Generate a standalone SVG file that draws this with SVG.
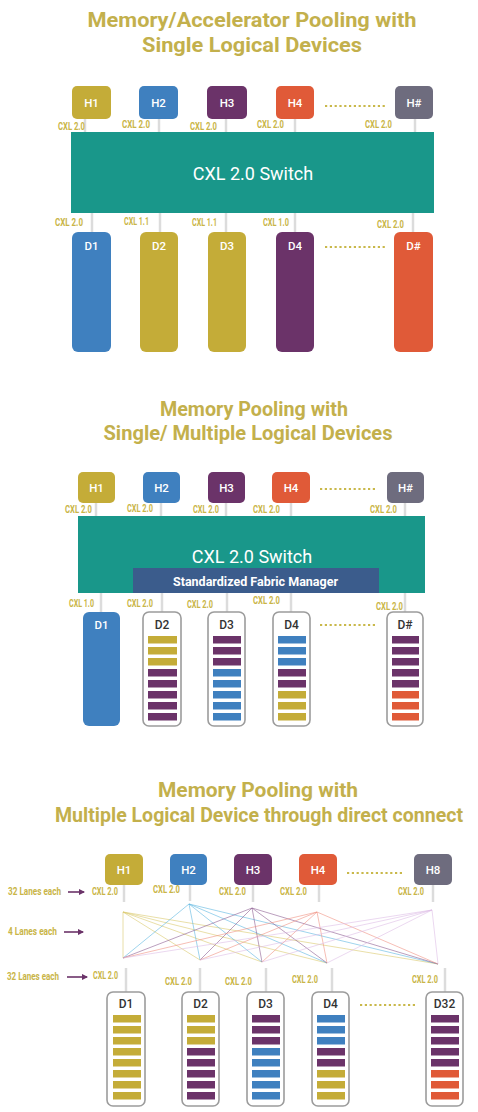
<svg xmlns="http://www.w3.org/2000/svg" width="478" height="1112" viewBox="0 0 478 1112">
<defs>
<style>
.title{font-family:Roboto,"Liberation Sans",sans-serif;font-weight:bold;font-size:20px;fill:#C3B04C;text-anchor:middle}
.lbl{font-family:Roboto,"Liberation Sans",sans-serif;font-weight:bold;font-size:11px;fill:#C9B547}
.lane{font-family:Roboto,"Liberation Sans",sans-serif;font-weight:bold;font-size:10.5px;fill:#C9B547}
.ht{font-family:Roboto,"Liberation Sans",sans-serif;font-weight:500;font-size:11.5px;fill:#fff;text-anchor:middle}
.dt{font-family:Roboto,"Liberation Sans",sans-serif;font-weight:500;font-size:12px;fill:#333;text-anchor:middle}
.sw{font-family:Roboto,"Liberation Sans",sans-serif;font-size:18px;fill:#fff;text-anchor:middle}
.fm{font-family:Roboto,"Liberation Sans",sans-serif;font-weight:bold;font-size:13px;fill:#fff;text-anchor:middle}
.stub{stroke:#dcdcdc;stroke-width:2.5}
.dots{stroke:#C9B84A;stroke-width:2.2;stroke-dasharray:2.2 2.6}
.box{fill:#fff;stroke:#9c9c9c;stroke-width:1.6}
.g{fill:#C4AC38}.b{fill:#3F80BF}.p{fill:#6B3369}.o{fill:#E05A38}.k{fill:#6E6C7E}
.sc{fill:#19978A}
.arr{stroke:#6B3369;stroke-width:1.6;marker-end:url(#ah)}
.m{stroke-width:0.9;fill:none;opacity:0.65}
</style>
<marker id="ah" viewBox="0 0 6 6" refX="5" refY="3" markerWidth="4" markerHeight="4" orient="auto"><path d="M0,0L6,3L0,6z" fill="#6B3369"/></marker>
</defs>
<rect width="478" height="1112" fill="#fff"/>

<!-- Section 1 -->
<g id="s1-title">
<text class="title" x="252" y="27" textLength="329" lengthAdjust="spacingAndGlyphs">Memory/Accelerator Pooling with</text>
<text class="title" x="252" y="52" textLength="220" lengthAdjust="spacingAndGlyphs">Single Logical Devices</text>
</g>
<g id="s1-connectors">
<line class="stub" x1="85" y1="119" x2="85" y2="132"/>
<line class="stub" x1="159" y1="119" x2="159" y2="132"/>
<line class="stub" x1="226" y1="119" x2="226" y2="132"/>
<line class="stub" x1="295" y1="119" x2="295" y2="132"/>
<line class="stub" x1="415" y1="119" x2="415" y2="132"/>
<line class="stub" x1="92" y1="213" x2="92" y2="232"/>
<line class="stub" x1="160" y1="213" x2="160" y2="232"/>
<line class="stub" x1="226" y1="213" x2="226" y2="232"/>
<line class="stub" x1="295" y1="213" x2="295" y2="232"/>
<line class="stub" x1="413" y1="213" x2="413" y2="232"/>
<text class="lbl" x="58" y="130" textLength="27" lengthAdjust="spacingAndGlyphs">CXL 2.0</text>
<text class="lbl" x="122" y="128" textLength="28" lengthAdjust="spacingAndGlyphs">CXL 2.0</text>
<text class="lbl" x="190" y="130" textLength="27" lengthAdjust="spacingAndGlyphs">CXL 2.0</text>
<text class="lbl" x="257" y="128" textLength="27" lengthAdjust="spacingAndGlyphs">CXL 2.0</text>
<text class="lbl" x="365" y="128" textLength="27" lengthAdjust="spacingAndGlyphs">CXL 2.0</text>
<text class="lbl" x="55" y="226" textLength="28" lengthAdjust="spacingAndGlyphs">CXL 2.0</text>
<text class="lbl" x="124" y="225" textLength="25" lengthAdjust="spacingAndGlyphs">CXL 1.1</text>
<text class="lbl" x="192" y="226" textLength="25" lengthAdjust="spacingAndGlyphs">CXL 1.1</text>
<text class="lbl" x="263" y="226" textLength="26" lengthAdjust="spacingAndGlyphs">CXL 1.0</text>
<text class="lbl" x="377" y="228" textLength="27" lengthAdjust="spacingAndGlyphs">CXL 2.0</text>
</g>
<g id="s1-H1"><rect class="g" x="72" y="86" width="39" height="33" rx="5"/><text class="ht" x="91.5" y="107">H1</text></g>
<g id="s1-H2"><rect class="b" x="139" y="86" width="39" height="33" rx="5"/><text class="ht" x="158.5" y="107">H2</text></g>
<g id="s1-H3"><rect class="p" x="207" y="86" width="40" height="33" rx="5"/><text class="ht" x="227" y="107">H3</text></g>
<g id="s1-H4"><rect class="o" x="276" y="86" width="38" height="33" rx="5"/><text class="ht" x="295" y="107">H4</text></g>
<g id="s1-Hn"><rect class="k" x="395" y="86" width="38" height="33" rx="5"/><text class="ht" x="414" y="107">H#</text></g>
<line class="dots" x1="325" y1="106" x2="385" y2="106"/>
<g id="s1-switch"><rect class="sc" x="71" y="132" width="363" height="81"/><text class="sw" x="253" y="180">CXL 2.0 Switch</text></g>
<g id="s1-D1"><rect class="b" x="72" y="232" width="39" height="120" rx="6"/><text class="ht" x="91.5" y="250" font-size="12">D1</text></g>
<g id="s1-D2"><rect class="g" x="140" y="232" width="38" height="120" rx="6"/><text class="ht" x="159" y="250" font-size="12">D2</text></g>
<g id="s1-D3"><rect class="g" x="208" y="232" width="38" height="120" rx="6"/><text class="ht" x="227" y="250" font-size="12">D3</text></g>
<g id="s1-D4"><rect class="p" x="276" y="232" width="38" height="120" rx="6"/><text class="ht" x="295" y="250" font-size="12">D4</text></g>
<g id="s1-Dn"><rect class="o" x="394" y="232" width="39" height="120" rx="6"/><text class="ht" x="413.5" y="250" font-size="12">D#</text></g>
<line class="dots" x1="325" y1="247" x2="385" y2="247"/>

<!-- Section 2 -->
<g id="s2-title">
<text class="title" x="254" y="416" textLength="188" lengthAdjust="spacingAndGlyphs">Memory Pooling with</text>
<text class="title" x="248" y="440" textLength="289" lengthAdjust="spacingAndGlyphs">Single/ Multiple Logical Devices</text>
</g>
<g id="s2-connectors">
<line class="stub" x1="96" y1="503" x2="96" y2="516"/>
<line class="stub" x1="161" y1="503" x2="161" y2="516"/>
<line class="stub" x1="226" y1="503" x2="226" y2="516"/>
<line class="stub" x1="291" y1="503" x2="291" y2="516"/>
<line class="stub" x1="405" y1="503" x2="405" y2="516"/>
<line class="stub" x1="101" y1="593" x2="101" y2="612"/>
<line class="stub" x1="162" y1="593" x2="162" y2="612"/>
<line class="stub" x1="227" y1="593" x2="227" y2="612"/>
<line class="stub" x1="291" y1="593" x2="291" y2="612"/>
<line class="stub" x1="405" y1="593" x2="405" y2="612"/>
<text class="lbl" x="65" y="513" textLength="27" lengthAdjust="spacingAndGlyphs">CXL 2.0</text>
<text class="lbl" x="127" y="512" textLength="26" lengthAdjust="spacingAndGlyphs">CXL 2.0</text>
<text class="lbl" x="193" y="513" textLength="26" lengthAdjust="spacingAndGlyphs">CXL 2.0</text>
<text class="lbl" x="253" y="513" textLength="27" lengthAdjust="spacingAndGlyphs">CXL 2.0</text>
<text class="lbl" x="370" y="513" textLength="27" lengthAdjust="spacingAndGlyphs">CXL 2.0</text>
<text class="lbl" x="69" y="607" textLength="25" lengthAdjust="spacingAndGlyphs">CXL 1.0</text>
<text class="lbl" x="127" y="607" textLength="26" lengthAdjust="spacingAndGlyphs">CXL 2.0</text>
<text class="lbl" x="187" y="608" textLength="26" lengthAdjust="spacingAndGlyphs">CXL 2.0</text>
<text class="lbl" x="253" y="604" textLength="27" lengthAdjust="spacingAndGlyphs">CXL 2.0</text>
<text class="lbl" x="376" y="610" textLength="27" lengthAdjust="spacingAndGlyphs">CXL 2.0</text>
</g>
<g id="s2-H1"><rect class="g" x="78" y="472" width="37" height="31" rx="5"/><text class="ht" x="96.5" y="492">H1</text></g>
<g id="s2-H2"><rect class="b" x="143" y="472" width="37" height="31" rx="5"/><text class="ht" x="161.5" y="492">H2</text></g>
<g id="s2-H3"><rect class="p" x="208" y="472" width="37" height="31" rx="5"/><text class="ht" x="226.5" y="492">H3</text></g>
<g id="s2-H4"><rect class="o" x="272" y="472" width="38" height="31" rx="5"/><text class="ht" x="291" y="492">H4</text></g>
<g id="s2-Hn"><rect class="k" x="387" y="472" width="37" height="31" rx="5"/><text class="ht" x="405.5" y="492">H#</text></g>
<line class="dots" x1="320" y1="489" x2="377" y2="489"/>
<g id="s2-switch"><rect class="sc" x="78" y="516" width="347" height="77"/><text class="sw" x="252" y="563">CXL 2.0 Switch</text></g>
<g id="s2-fm"><rect fill="#3B5C8C" x="133" y="568" width="246" height="25"/><text class="fm" x="255.5" y="586" textLength="165" lengthAdjust="spacingAndGlyphs">Standardized Fabric Manager</text></g>
<g id="s2-D1"><rect class="b" x="83" y="612" width="37" height="114" rx="6"/><text class="ht" x="101.5" y="629" font-size="12">D1</text></g>
<g id="s2-D2"><rect class="box" x="143" y="612" width="38" height="114" rx="6"/><text class="dt" x="162" y="629">D2</text>
<rect class="g" x="148" y="636" width="29" height="7.5"/><rect class="g" x="148" y="647" width="29" height="7.5"/><rect class="g" x="148" y="658" width="29" height="7.5"/><rect class="p" x="148" y="669" width="29" height="7.5"/><rect class="p" x="148" y="680" width="29" height="7.5"/><rect class="p" x="148" y="691" width="29" height="7.5"/><rect class="p" x="148" y="702" width="29" height="7.5"/><rect class="p" x="148" y="713" width="29" height="7.5"/></g>
<g id="s2-D3"><rect class="box" x="208" y="612" width="37" height="114" rx="6"/><text class="dt" x="226.5" y="629">D3</text>
<rect class="p" x="213" y="636" width="28" height="7.5"/><rect class="p" x="213" y="647" width="28" height="7.5"/><rect class="p" x="213" y="658" width="28" height="7.5"/><rect class="b" x="213" y="669" width="28" height="7.5"/><rect class="b" x="213" y="680" width="28" height="7.5"/><rect class="b" x="213" y="691" width="28" height="7.5"/><rect class="b" x="213" y="702" width="28" height="7.5"/><rect class="b" x="213" y="713" width="28" height="7.5"/></g>
<g id="s2-D4"><rect class="box" x="273" y="612" width="37" height="114" rx="6"/><text class="dt" x="291.5" y="629">D4</text>
<rect class="b" x="278" y="636" width="28" height="7.5"/><rect class="b" x="278" y="647" width="28" height="7.5"/><rect class="b" x="278" y="658" width="28" height="7.5"/><rect class="p" x="278" y="669" width="28" height="7.5"/><rect class="p" x="278" y="680" width="28" height="7.5"/><rect class="g" x="278" y="691" width="28" height="7.5"/><rect class="g" x="278" y="702" width="28" height="7.5"/><rect class="g" x="278" y="713" width="28" height="7.5"/></g>
<g id="s2-Dn"><rect class="box" x="387" y="612" width="36" height="114" rx="6"/><text class="dt" x="405" y="629">D#</text>
<rect class="p" x="392" y="636" width="27" height="7.5"/><rect class="p" x="392" y="647" width="27" height="7.5"/><rect class="p" x="392" y="658" width="27" height="7.5"/><rect class="p" x="392" y="669" width="27" height="7.5"/><rect class="p" x="392" y="680" width="27" height="7.5"/><rect class="o" x="392" y="691" width="27" height="7.5"/><rect class="o" x="392" y="702" width="27" height="7.5"/><rect class="o" x="392" y="713" width="27" height="7.5"/></g>
<line class="dots" x1="320" y1="625" x2="377" y2="625"/>

<!-- Section 3 -->
<g id="s3-title">
<text class="title" x="258" y="797" textLength="200" lengthAdjust="spacingAndGlyphs">Memory Pooling with</text>
<text class="title" x="259" y="822" textLength="408" lengthAdjust="spacingAndGlyphs">Multiple Logical Device through direct connect</text>
</g>
<g id="s3-lanes">
<text class="lane" x="8" y="895" textLength="53" lengthAdjust="spacingAndGlyphs">32 Lanes each</text>
<line class="arr" x1="68" y1="892" x2="84" y2="892"/>
<text class="lane" x="8" y="935" textLength="49" lengthAdjust="spacingAndGlyphs">4 Lanes each</text>
<line class="arr" x1="64" y1="932" x2="83" y2="932"/>
<text class="lane" x="7" y="980" textLength="52" lengthAdjust="spacingAndGlyphs">32 Lanes each</text>
<line class="arr" x1="67" y1="977" x2="87" y2="977"/>
</g>
<g id="s3-connectors">
<line class="stub" x1="124" y1="885" x2="124" y2="902"/>
<line class="stub" x1="190" y1="885" x2="190" y2="901"/>
<line class="stub" x1="253" y1="885" x2="253" y2="902"/>
<line class="stub" x1="319" y1="885" x2="319" y2="902"/>
<line class="stub" x1="433" y1="885" x2="433" y2="902"/>
<line class="stub" x1="126" y1="968" x2="126" y2="992"/>
<line class="stub" x1="200" y1="968" x2="200" y2="992"/>
<line class="stub" x1="266" y1="968" x2="266" y2="992"/>
<line class="stub" x1="332" y1="968" x2="332" y2="992"/>
<line class="stub" x1="445" y1="968" x2="445" y2="992"/>
<g stroke="#D9C96A" class="m">
<path d="M123,912L123,958M123,912L200,960M123,912L262,962M123,912L327,963M123,912L438,964"/>
</g>
<g stroke="#5BB5E0" class="m">
<path d="M189,904L123,958M189,904L200,960M189,904L262,962M189,904L327,963M189,904L438,964"/>
</g>
<g stroke="#8A5A90" class="m">
<path d="M252,908L123,958M252,908L200,960M252,908L262,962M252,908L327,963M252,908L438,964"/>
</g>
<g stroke="#F09080" class="m">
<path d="M317,912L123,958M317,912L200,960M317,912L262,962M317,912L327,963M317,912L438,964"/>
</g>
<g stroke="#DDBDE6" class="m">
<path d="M432,910L123,958M432,910L200,960M432,910L262,962M432,910L327,963M432,910L438,964"/>
</g>
<text class="lbl" x="92" y="895" textLength="26" lengthAdjust="spacingAndGlyphs">CXL 2.0</text>
<text class="lbl" x="153" y="893" textLength="27" lengthAdjust="spacingAndGlyphs">CXL 2.0</text>
<text class="lbl" x="219" y="895" textLength="27" lengthAdjust="spacingAndGlyphs">CXL 2.0</text>
<text class="lbl" x="280" y="895" textLength="27" lengthAdjust="spacingAndGlyphs">CXL 2.0</text>
<text class="lbl" x="398" y="895" textLength="26" lengthAdjust="spacingAndGlyphs">CXL 2.0</text>
<text class="lbl" x="93" y="979" textLength="25" lengthAdjust="spacingAndGlyphs">CXL 2.0</text>
<text class="lbl" x="165" y="985" textLength="27" lengthAdjust="spacingAndGlyphs">CXL 2.0</text>
<text class="lbl" x="225" y="985" textLength="27" lengthAdjust="spacingAndGlyphs">CXL 2.0</text>
<text class="lbl" x="292" y="983" textLength="26" lengthAdjust="spacingAndGlyphs">CXL 2.0</text>
<text class="lbl" x="412" y="983" textLength="26" lengthAdjust="spacingAndGlyphs">CXL 2.0</text>
</g>
<g id="s3-H1"><rect class="g" x="105" y="854" width="38" height="31" rx="5"/><text class="ht" x="124" y="874">H1</text></g>
<g id="s3-H2"><rect class="b" x="170" y="854" width="37" height="31" rx="5"/><text class="ht" x="188.5" y="874">H2</text></g>
<g id="s3-H3"><rect class="p" x="234" y="854" width="38" height="31" rx="5"/><text class="ht" x="253" y="874">H3</text></g>
<g id="s3-H4"><rect class="o" x="299" y="854" width="38" height="31" rx="5"/><text class="ht" x="318" y="874">H4</text></g>
<g id="s3-H8"><rect class="k" x="414" y="854" width="38" height="31" rx="5"/><text class="ht" x="433" y="874">H8</text></g>
<line class="dots" x1="347" y1="873" x2="403" y2="873"/>
<g id="s3-D1"><rect class="box" x="107" y="992" width="38" height="114" rx="6"/><text class="dt" x="126" y="1008">D1</text>
<rect class="g" x="113" y="1015" width="28" height="7.5"/><rect class="g" x="113" y="1026" width="28" height="7.5"/><rect class="g" x="113" y="1037" width="28" height="7.5"/><rect class="g" x="113" y="1048" width="28" height="7.5"/><rect class="g" x="113" y="1059" width="28" height="7.5"/><rect class="g" x="113" y="1070" width="28" height="7.5"/><rect class="g" x="113" y="1081" width="28" height="7.5"/><rect class="g" x="113" y="1092" width="28" height="7.5"/></g>
<g id="s3-D2"><rect class="box" x="182" y="992" width="37" height="114" rx="6"/><text class="dt" x="200.5" y="1008">D2</text>
<rect class="g" x="187" y="1015" width="28" height="7.5"/><rect class="g" x="187" y="1026" width="28" height="7.5"/><rect class="g" x="187" y="1037" width="28" height="7.5"/><rect class="p" x="187" y="1048" width="28" height="7.5"/><rect class="p" x="187" y="1059" width="28" height="7.5"/><rect class="p" x="187" y="1070" width="28" height="7.5"/><rect class="p" x="187" y="1081" width="28" height="7.5"/><rect class="p" x="187" y="1092" width="28" height="7.5"/></g>
<g id="s3-D3"><rect class="box" x="247" y="992" width="37" height="114" rx="6"/><text class="dt" x="265.5" y="1008">D3</text>
<rect class="p" x="252" y="1015" width="28" height="7.5"/><rect class="p" x="252" y="1026" width="28" height="7.5"/><rect class="p" x="252" y="1037" width="28" height="7.5"/><rect class="b" x="252" y="1048" width="28" height="7.5"/><rect class="b" x="252" y="1059" width="28" height="7.5"/><rect class="b" x="252" y="1070" width="28" height="7.5"/><rect class="b" x="252" y="1081" width="28" height="7.5"/><rect class="b" x="252" y="1092" width="28" height="7.5"/></g>
<g id="s3-D4"><rect class="box" x="312" y="992" width="37" height="114" rx="6"/><text class="dt" x="330.5" y="1008">D4</text>
<rect class="b" x="317" y="1015" width="28" height="7.5"/><rect class="b" x="317" y="1026" width="28" height="7.5"/><rect class="b" x="317" y="1037" width="28" height="7.5"/><rect class="p" x="317" y="1048" width="28" height="7.5"/><rect class="p" x="317" y="1059" width="28" height="7.5"/><rect class="g" x="317" y="1070" width="28" height="7.5"/><rect class="g" x="317" y="1081" width="28" height="7.5"/><rect class="g" x="317" y="1092" width="28" height="7.5"/></g>
<g id="s3-D32"><rect class="box" x="426" y="992" width="37" height="114" rx="6"/><text class="dt" x="444.5" y="1008">D32</text>
<rect class="p" x="431" y="1015" width="28" height="7.5"/><rect class="p" x="431" y="1026" width="28" height="7.5"/><rect class="p" x="431" y="1037" width="28" height="7.5"/><rect class="p" x="431" y="1048" width="28" height="7.5"/><rect class="p" x="431" y="1059" width="28" height="7.5"/><rect class="o" x="431" y="1070" width="28" height="7.5"/><rect class="o" x="431" y="1081" width="28" height="7.5"/><rect class="o" x="431" y="1092" width="28" height="7.5"/></g>
<line class="dots" x1="360" y1="1005" x2="415" y2="1005"/>
</svg>
